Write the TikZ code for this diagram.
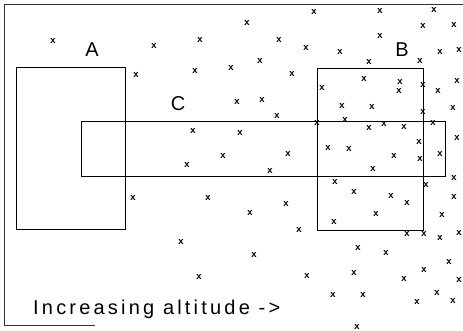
\documentclass[tikz,border=0pt]{standalone}
\usepackage{fontspec}
\usepackage{graphicx}
\setmainfont{Liberation Sans}
\newfontfamily\crossfont{Liberation Mono}
\newfontfamily\labelfont[LetterSpace=16]{Liberation Sans}
\newfontfamily\plainfont{Liberation Sans}
\begin{document}
\begin{tikzpicture}[x=1pt,y=-1pt,
  region/.style={draw=black,line width=0.8pt},
  frameline/.style={draw=black!80,line width=0.8pt},
  cross/.style={inner sep=0pt,font=\crossfont\bfseries\fontsize{9.5}{9.5}\selectfont},
  lbl/.style={inner sep=0pt,font=\plainfont\fontsize{20}{20}\selectfont},
  caption/.style={inner sep=0pt,font=\labelfont\fontsize{20}{20}\selectfont}]
\useasboundingbox (0,0) rectangle (463,331);
% frame
\coordinate (ftr) at (463,4);
\coordinate (ftl) at (4,4);
\coordinate (fbl) at (4,325);
\coordinate (fbr) at (95,325);
\draw[frameline] (ftr) -- (ftl) -- (fbl) -- (fbr);
% regions
\draw[region] (16,67) rectangle (125,229);
\draw[region] (81,121) rectangle (445,176);
\draw[region] (317,68) rectangle (423,230);
% labels
\node[lbl] (la) at (92,50) {A};
\node[lbl] (lc) at (178,104) {C};
\node[lbl] (lb) at (402,50) {B};
\node[caption,anchor=base west] (alt) at (33,314) {Increasing altitude ->};
% sample points
\foreach \px/\py [count=\i] in {53/41,154/46,200/40,136/75,195/71,231/68,193/131,223/156,187/165,
314/12,380/11,434/10,247/23,423/26,454/25,279/40,380/36,306/48,340/52,440/52,459/50,260/61,369/62,420/61,
292/74,364/79,400/82,399/91,423/85,438/91,457/81,322/88,237/102,262/100,342/106,372/107,423/112,453/108,
277/116,317/123,345/120,369/128,384/124,404/127,433/123,240/133,419/142,457/138,328/148,349/149,288/154,
394/156,420/159,440/154,
270/171,373/169,454/178,335/182,426/185,354/192,391/196,407/203,454/197,286/204,250/213,376/214,442/215,
334/222,299/230,407/234,424/234,440/238,459/233,358/248,386/253,254/255,449/262,424/270,354/273,307/276,
404/279,459/280,333/295,363/295,437/293,417/302,453/301,357/327,
133/198,208/198,181/242,199/277}
  \node[cross] (p\i) at (\px,\py) {x};
\end{tikzpicture}
\end{document}
